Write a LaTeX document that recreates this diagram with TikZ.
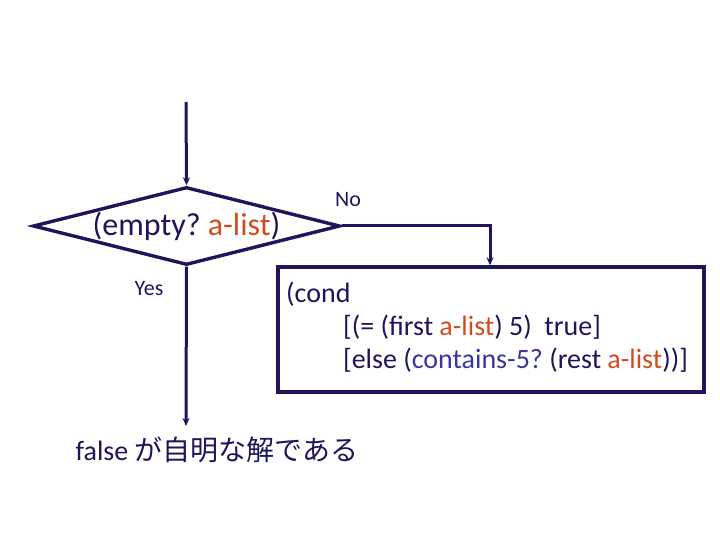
\documentclass[tikz,border=0pt]{standalone}
\usepackage{fontspec}
\setmainfont{Carlito}
\newfontfamily\jpfont{Noto Sans CJK JP}
\usetikzlibrary{shapes.geometric,arrows.meta}
\definecolor{navy}{RGB}{28,22,90}
\definecolor{orng}{RGB}{210,75,30}
\definecolor{blu}{RGB}{55,55,160}
\frenchspacing
\tikzset{
  flow/.style={draw=navy, line width=3pt, -{Stealth[length=8pt,width=7pt]}},
  lbl/.style={text=navy, inner sep=0pt},
}
\begin{document}
\begin{tikzpicture}[x=1pt,y=-1pt]
\useasboundingbox (0,0) rectangle (720,540);
\coordinate (start) at (186,102);
\node[diamond, draw=navy, line width=3.4pt, minimum width=307pt, minimum height=78pt, inner sep=0pt, aspect=3.94, text=navy, font=\fontsize{32}{36}\selectfont] (d) at (186.5,226) {(empty? \textcolor{orng}{a-list})};
\node[draw=navy, line width=3.4pt, minimum width=426pt, minimum height=125pt, inner sep=0pt] (b) at (491,329.5) {};
\node[lbl, anchor=base west, align=left, font=\fontsize{28}{33}\selectfont] (code) at (286,368) {(cond\\
\hspace*{57pt}[(= (first \textcolor{orng}{a-list}) 5)\ \ true]\\
\hspace*{57pt}[else (\textcolor{blu}{contains-5?} (rest \textcolor{orng}{a-list}))]};
\coordinate (res) at (186,426);
\coordinate (nx) at (490,0);
\node[lbl, font=\fontsize{28}{30}\selectfont] (ans) at (217,450) {false \jpfont が自明な解である};
\node[lbl, font=\fontsize{22}{24}\selectfont] (no) at (348,200) {No};
\node[lbl, font=\fontsize{22}{24}\selectfont] (yes) at (149,289) {Yes};
\draw[flow] (start) -- (d.north);
\draw[flow] (d.south) -- (res);
\draw[flow] (d.east) -| (nx |- b.north);
\end{tikzpicture}
\end{document}
